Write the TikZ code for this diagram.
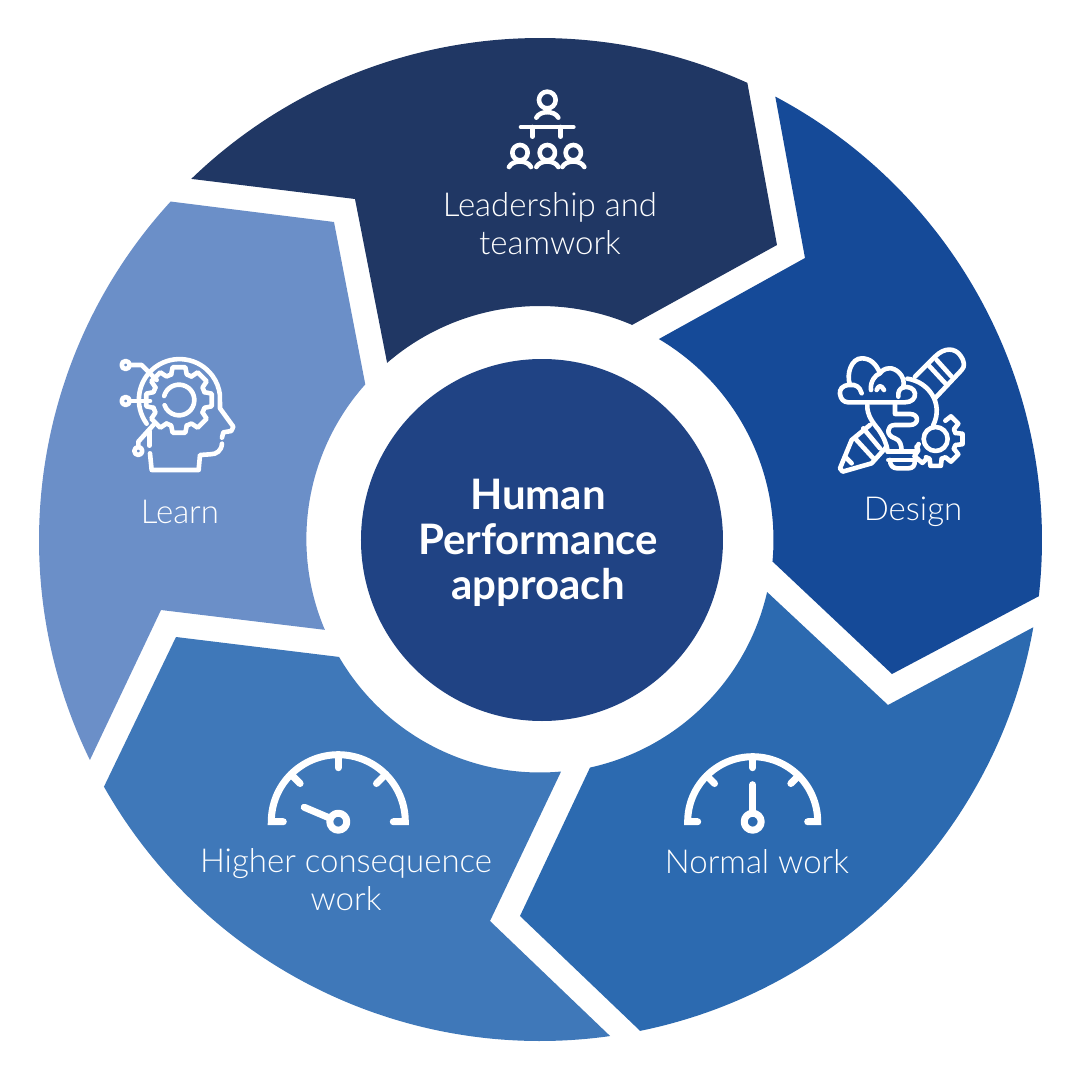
\documentclass[tikz,border=0pt]{standalone}
\usepackage{fontspec}
\usepackage{xcolor}
\usepackage{tikz}
\setmainfont{Lato Light}
\newfontfamily\headfont{Lato}[Scale=1]
\definecolor{leadblue}{HTML}{203764}
\definecolor{designblue}{HTML}{154A98}
\definecolor{normalblue}{HTML}{2C6AB0}
\definecolor{higherblue}{HTML}{3F78B9}
\definecolor{learnblue}{HTML}{6B8FC8}
\definecolor{hubblue}{HTML}{204384}

% Small wheel: centre x, y, root radius, tip radius, list of tooth angles
\newcommand{\gearteeth}[5]{
  \foreach \ang in {#5} {
    \draw[icon, shift={(#1,#2)}] (\ang-17:#3) -- (\ang-11:#4) -- (\ang+11:#4) -- (\ang+17:#3) -- (\ang+28:#3);
  }
}
% Dial: centre x, y, radius, needle angle
\newcommand{\gaugedial}[4]{
  \begin{scope}[shift={(#1,#2)}]
    \draw[dial, line join=miter] (-55,0) -- (-#3,0) arc[start angle=180, end angle=0, radius=#3] -- (55,0);
    \draw[dial] (90:#3) -- (90:54);
    \draw[dial] (135:#3) -- (135:54);
    \draw[dial] (45:#3) -- (45:54);
    \draw[dial] (0,0) circle[radius=8.5];
    \draw[dial] (#4:9) -- (#4:37);
  \end{scope}
}
% One person: head x, y, head radius, shoulder drop
\newcommand{\personmark}[4]{
  \begin{scope}[shift={(#1,#2)}]
    \draw[icon] (0,0) circle[radius=#3];
    \draw[icon] (-33,#4) .. controls (-22,#4-22) and (22,#4-22) .. (33,#4);
  \end{scope}
}

\begin{document}
\begin{tikzpicture}[
    x=1pt, y=1pt,
    segment/.style={draw=none},
    icon/.style={draw=white, line width=4.6pt, line cap=round, line join=round},
    dial/.style={icon, line width=7pt},
    label/.style={text=white, align=center, font=\fontsize{33}{38}\selectfont, inner sep=0pt},
    title/.style={text=white, align=center, font=\headfont\bfseries\fontsize{42}{45}\selectfont, inner sep=0pt},
    hub/.style={circle, fill=hubblue, minimum size=362pt, inner sep=0pt}
]
\useasboundingbox (-540,-540) rectangle (540,540);

% Ring segments, clockwise from the top
\fill[segment, leadblue] (134:502) arc[start angle=134, end angle=65.6, radius=502] -- (237,295) -- (92,215) -- (66.8:234) arc[start angle=66.8, end angle=130.8, radius=234] -- (-185,341) -- cycle;
\fill[segment, designblue] (62.05:502) arc[start angle=62.05, end angle=-6.43, radius=502] -- (352,-134) -- (232,-21) -- (-5.17:233.5) arc[start angle=-5.17, end angle=59.4, radius=233.5] -- (265,282) -- cycle;
\fill[segment, normalblue] (-10.03:501) arc[start angle=-10.03, end angle=-78.47, radius=501] -- (-20,-376) -- (-77.6:233) arc[start angle=-77.6, end angle=-12.9, radius=233] -- (348,-165) -- cycle;
\fill[segment, higherblue] (-81.95:501) arc[start angle=-81.95, end angle=-150.5, radius=501] -- (-364,-97) -- (-149.8:232.5) arc[start angle=-149.8, end angle=-84.8, radius=232.5] -- (-50,-381) -- cycle;
\fill[segment, learnblue] (206.05:501) arc[start angle=206.05, end angle=137.5, radius=501] -- (-206,318) -- (138.3:234) arc[start angle=138.3, end angle=203, radius=232.5] -- (-379,-70) -- cycle;

% Centre
\node[hub] (centre) at (2,0) {};
\node[title] (approach) at (-2,-3) {Human\\Performance\\approach};

% Labels
\node[label] (leadership) at (10,316) {Leadership and\\teamwork};
\node[label] (design) at (373,28) {Design};
\node[label] (normal) at (217,-322) {Normal work};
\node[label] (higher) at (-194,-340) {Higher consequence\\work};
\node[label] (learn) at (-360,28) {Learn};

% Team icon
\begin{scope}[shift={(-45,455)}, x=0.3333pt, y=-0.3333pt]
  \personmark{157}{45}{25}{53}
  \personmark{75}{203}{23}{43}
  \personmark{157}{203}{23}{43}
  \personmark{235}{203}{23}{43}
  \draw[icon] (78,126) -- (235,126);
  \draw[icon] (112,126) -- (112,155);
  \draw[icon] (197,126) -- (197,155);
\end{scope}

% Dial icons
\gaugedial{-201.7}{-281.7}{67}{157}
\gaugedial{212.7}{-281.7}{65}{90}

% Head icon
\begin{scope}[shift={(-430,195)}, x=0.3333pt, y=-0.3333pt]
  \draw[icon] (110,236) arc[start angle=144, end angle=353, radius=122] -- (330,190) -- (370,245) -- (364,258) -- (340,262) -- (336,278);
  \draw[icon] (336,296) .. controls (334,318) and (320,328) .. (300,328) -- (270,330) -- (266,375) -- (125,375) -- (120,325);
  \draw[icon] (118,258) -- (118,302);
  \gearteeth{207}{165}{80}{100}{0,45,90,135,180,225,270,315}
  \draw[icon] (162.6,153.1) arc[start angle=195, end angle=520, radius=46];
  \draw[icon] (47,60) circle[radius=12];
  \draw[icon] (47,168) circle[radius=12];
  \draw[icon] (85,318) circle[radius=12];
  \draw[icon] (60,60) -- (95,60) -- (140,105);
  \draw[icon] (60,168) -- (120,168);
  \draw[icon] (85,306) -- (85,290) -- (130,240);
\end{scope}

% Design icon
\begin{scope}[shift={(280,200)}, x=0.3333pt, y=-0.3333pt]
  % cloud
  \draw[icon] (125,160) .. controls (120,140) and (105,132) .. (90,135) .. controls (65,135) and (58,150) .. (60,162) .. controls (62,178) and (72,187) .. (85,187) -- (255,187) .. controls (275,187) and (287,175) .. (285,160) .. controls (283,145) and (265,138) .. (250,142) .. controls (258,105) and (225,83) .. (208,85) .. controls (195,85) and (185,92) .. (180,100) .. controls (168,70) and (150,55) .. (125,55) .. controls (95,55) and (78,100) .. (90,135);
  \draw[icon] (153,150) .. controls (150,125) and (165,105) .. (180,100);
  \draw[icon] (170,150) .. controls (175,135) and (185,135) .. (192,150);
  \draw[icon] (235,170) .. controls (233,155) and (240,145) .. (250,142);
  % bulb
  \draw[icon] (262,116) .. controls (325,125) and (372,190) .. (340,255);
  \draw[icon] (142,195) .. controls (140,225) and (160,250) .. (175,268) .. controls (190,290) and (200,310) .. (203,335);
  \draw[icon] (296,312) .. controls (292,320) and (290,325) .. (290,335);
  \draw[icon] (203,335) -- (290,335);
  \draw[icon] (205,360) -- (290,360);
  \draw[icon] (210,360) .. controls (210,378) and (220,385) .. (232,385) -- (265,385) .. controls (278,385) and (285,378) .. (285,360);
  \draw[icon] (225,190) -- (225,222) -- (270,222) .. controls (298,222) and (298,255) .. (270,255) -- (225,255) .. controls (198,255) and (198,288) .. (225,295) .. controls (240,300) and (245,315) .. (245,335);
  % pencil
  \draw[icon] (285,110) -- (345,50) .. controls (375,20) and (405,25) .. (420,45) .. controls (435,65) and (435,80) .. (425,90) -- (345,175);
  \draw[icon] (325,75) -- (375,129);
  \draw[icon] (350,60) -- (395,110);
  \draw[icon] (150,255) -- (95,300) -- (60,385) -- (68,395) -- (155,370) -- (200,320);
  \draw[icon] (105,295) -- (160,355);
  \draw[icon] (130,265) -- (180,325);
  \draw[icon] (75,350) -- (95,370);
  % gear
  \draw[icon] (347,297) circle[radius=36];
  \gearteeth{347}{297}{62}{82}{-45,0,45,90,130}
\end{scope}
\end{tikzpicture}
\end{document}
